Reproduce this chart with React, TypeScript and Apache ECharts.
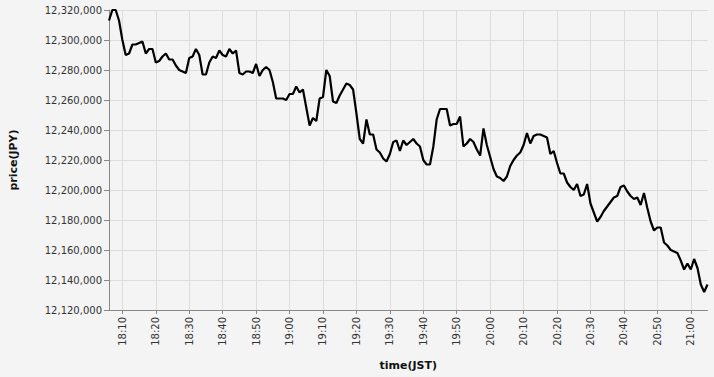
import React, { useEffect, useRef } from "react";
import * as echarts from "echarts";

const START_HOUR = 18;
const START_MIN = 6;
const POINT_COUNT = 180;

const times: string[] = [];
for (let i = 0; i < POINT_COUNT; i++) {
  const t = START_HOUR * 60 + START_MIN + i;
  const h = Math.floor(t / 60);
  const m = t % 60;
  times.push(`${h}:${m < 10 ? "0" + m : m}`);
}

const prices: number[] = [
  12313000, 12320000, 12320000, 12313000, 12300000, 12290000, 12291000, 12297000, 12297000, 12298000,
  12299000, 12291000, 12294000, 12294000, 12285000, 12286000, 12289000, 12291000, 12287000, 12287000,
  12283000, 12280000, 12279000, 12278000, 12288000, 12289000, 12294000, 12290000, 12277000, 12277000,
  12285000, 12289000, 12288000, 12293000, 12290000, 12289000, 12294000, 12291000, 12293000, 12278000,
  12277000, 12279000, 12279000, 12278000, 12284000, 12276000, 12280000, 12282000, 12280000, 12272000,
  12261000, 12261000, 12261000, 12260000, 12264000, 12264000, 12269000, 12265000, 12267000, 12255000,
  12243000, 12248000, 12246000, 12261000, 12262000, 12280000, 12276000, 12259000, 12258000, 12263000,
  12267000, 12271000, 12270000, 12267000, 12251000, 12234000, 12231000, 12247000, 12237000, 12237000,
  12227000, 12225000, 12221000, 12219000, 12224000, 12232000, 12233000, 12226000, 12233000, 12230000,
  12232000, 12234000, 12231000, 12229000, 12220000, 12217000, 12217000, 12229000, 12247000, 12254000,
  12254000, 12254000, 12243000, 12244000, 12244000, 12249000, 12229000, 12231000, 12234000, 12232000,
  12227000, 12223000, 12241000, 12230000, 12222000, 12214000, 12209000, 12208000, 12206000, 12209000,
  12216000, 12220000, 12223000, 12225000, 12230000, 12238000, 12231000, 12236000, 12237000, 12237000,
  12236000, 12235000, 12224000, 12226000, 12218000, 12211000, 12211000, 12205000, 12202000, 12200000,
  12204000, 12196000, 12197000, 12204000, 12191000, 12185000, 12179000, 12182000, 12186000, 12189000,
  12192000, 12195000, 12196000, 12202000, 12203000, 12199000, 12196000, 12194000, 12195000, 12190000,
  12198000, 12188000, 12179000, 12173000, 12175000, 12175000, 12165000, 12163000, 12160000, 12159000,
  12158000, 12153000, 12147000, 12151000, 12147000, 12154000, 12148000, 12137000, 12132000, 12137000,
];

const Y_MIN = 12120000;
const Y_MAX = 12320000;
const Y_STEP = 20000;

const isTenMinute = (_i: number, v: string) => v.endsWith("0");

export default function App() {
  const ref = useRef<HTMLDivElement>(null);
  useEffect(() => {
    document.body.style.margin = "0";
    const chart = echarts.init(ref.current!, undefined, { renderer: "svg" });
    const font = "DejaVu Sans";
    chart.setOption({
      animation: false,
      backgroundColor: "#f4f4f4",
      grid: { left: 107, right: 6.5, top: 10, bottom: 67, containLabel: false },
      xAxis: {
        type: "category",
        data: times,
        boundaryGap: false,
        name: "time(JST)",
        nameLocation: "middle",
        nameGap: 50,
        nameTextStyle: { fontFamily: font, fontSize: 11, fontWeight: "bold", color: "#111" },
        axisLine: { lineStyle: { color: "#888", width: 1 } },
        axisTick: { show: true, interval: isTenMinute, length: 4, lineStyle: { color: "#888" } },
        axisLabel: {
          interval: isTenMinute,
          rotate: 90,
          margin: 7,
          fontFamily: font,
          fontSize: 10,
          color: "#333",
        },
        splitLine: { show: true, interval: isTenMinute, lineStyle: { color: "#dcdcdc", width: 1 } },
      },
      yAxis: {
        type: "value",
        min: Y_MIN,
        max: Y_MAX,
        interval: Y_STEP,
        name: "price(JPY)",
        nameLocation: "middle",
        nameGap: 90,
        nameRotate: 90,
        nameTextStyle: { fontFamily: font, fontSize: 11, fontWeight: "bold", color: "#111" },
        axisLine: { show: true, lineStyle: { color: "#888", width: 1 } },
        axisTick: { show: true, length: 5, lineStyle: { color: "#888" } },
        axisLabel: {
          margin: 7,
          fontFamily: font,
          fontSize: 10,
          color: "#333",
          formatter: (v: number) => v.toLocaleString("en-US"),
        },
        splitLine: { show: true, lineStyle: { color: "#dcdcdc", width: 1 } },
      },
      series: [
        {
          type: "line",
          data: prices,
          showSymbol: false,
          symbol: "none",
          lineStyle: { color: "#000", width: 2.2 },
        },
      ],
    });
    return () => chart.dispose();
  }, []);
  return (
    <div
      ref={ref}
      style={{ position: "absolute", left: 0, top: 0, width: 714, height: 377 }}
    />
  );
}
